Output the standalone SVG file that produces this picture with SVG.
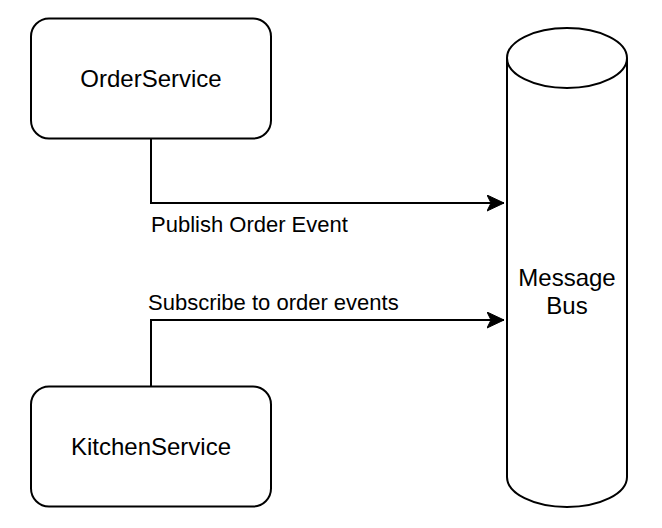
<svg xmlns="http://www.w3.org/2000/svg" width="662" height="528" viewBox="0 0 662 528">
  <style>
    .box { fill: #ffffff; stroke: #000000; stroke-width: 2; }
    .edge { fill: none; stroke: #000000; stroke-width: 2; }
    .node-text { font-family: "Liberation Sans", Arial, Helvetica, sans-serif; font-size: 24px; fill: #000000; text-anchor: middle; }
    .edge-text { font-family: "Liberation Sans", Arial, Helvetica, sans-serif; font-size: 22px; fill: #000000; }
  </style>
  <defs>
    <marker id="arrow" markerUnits="userSpaceOnUse" markerWidth="20" markerHeight="20" refX="17" refY="8" orient="auto" viewBox="0 0 20 20">
      <path d="M17,8 L0,0 L4,8 L0,16 Z" fill="#000000" stroke="#000000" stroke-width="1"/>
    </marker>
  </defs>
  <rect width="662" height="528" fill="#ffffff"/>
  <g id="connectors">
    <path class="edge" d="M151,138.5 L151,203 L504,203" marker-end="url(#arrow)"/>
    <path class="edge" d="M151,386.5 L151,320 L504,320" marker-end="url(#arrow)"/>
    <text class="edge-text" x="151" y="231.5">Publish Order Event</text>
    <text class="edge-text" x="148" y="309.5">Subscribe to order events</text>
  </g>
  <g id="order-service">
    <rect class="box" x="31" y="18.5" width="240" height="120" rx="18" ry="18"/>
    <text class="node-text" x="151" y="87">OrderService</text>
  </g>
  <g id="kitchen-service">
    <rect class="box" x="31" y="386.5" width="240" height="120" rx="18" ry="18"/>
    <text class="node-text" x="151" y="455">KitchenService</text>
  </g>
  <g id="message-bus">
    <path class="box" d="M507,58 A60,30 0 0 1 627,58 L627,477 A60,30 0 0 1 507,477 Z"/>
    <path class="box" fill="none" d="M507,58 A60,30 0 0 0 627,58"/>
    <text class="node-text" x="567" y="286">Message</text>
    <text class="node-text" x="567" y="314">Bus</text>
  </g>
</svg>
